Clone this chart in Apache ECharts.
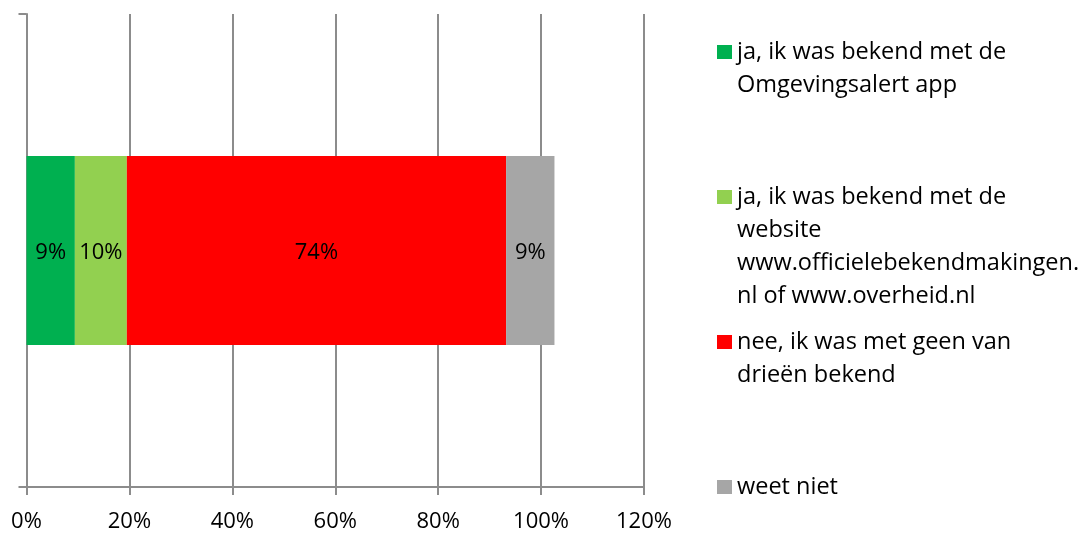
<!DOCTYPE html>
<html>
<head>
<meta charset="utf-8">
<script src="https://cdn.jsdelivr.net/npm/echarts@6/dist/echarts.min.js"></script>
<style>
html,body{margin:0;padding:0;background:#fff;}
#chart{width:1083px;height:533px;}
</style>
</head>
<body>
<div id="chart"></div>
<script>
var categories = [''];
var seriesNames = [
  'ja, ik was bekend met de Omgevingsalert app',
  'ja, ik was bekend met de website www.officielebekendmakingen.nl of www.overheid.nl',
  'nee, ik was met geen van drieën bekend',
  'weet niet'
];
var legendLabels = [
  'ja, ik was bekend met de\nOmgevingsalert app',
  'ja, ik was bekend met de\nwebsite\nwww.officielebekendmakingen.\nnl of www.overheid.nl',
  'nee, ik was met geen van\ndrieën bekend',
  'weet niet'
];
var values = [9.4, 10.1, 73.7, 9.4];
var colors = ['#00B050', '#92D050', '#FF0000', '#A6A6A6'];
var xTicks = [0, 20, 40, 60, 80, 100, 120];

var FONT = 'Open Sans';
var FS = 22;
var LFS = 23.5;
var LH = 33;
var GRAY = '#8c8c8c';
var iconCenters = [52, 197, 342, 487];

var chart = echarts.init(document.getElementById('chart'));

var legends = seriesNames.map(function (name, i) {
  var n = legendLabels[i].split('\n').length;
  var lead = new Array(n).join('\n');
  return {
    data: [name],
    left: 717,
    top: iconCenters[i] - (2 * n - 1) * LH / 2,
    orient: 'vertical',
    padding: 0,
    icon: 'rect',
    itemWidth: 15,
    itemHeight: 14,
    selectedMode: false,
    formatter: function () { return lead + legendLabels[i]; },
    textStyle: {
      fontFamily: FONT,
      fontSize: LFS,
      lineHeight: LH,
      color: '#000'
    }
  };
});

var series = seriesNames.map(function (name, i) {
  return {
    name: name,
    type: 'bar',
    stack: 'total',
    barWidth: '40%',
    itemStyle: { color: colors[i] },
    label: {
      show: true,
      position: 'inside',
      color: '#000',
      fontFamily: FONT,
      fontSize: FS,
      offset: [0, 2],
      formatter: function (p) { return Math.round(p.value) + '%'; }
    },
    data: [values[i]]
  };
});

chart.setOption({
  animation: false,
  backgroundColor: '#fff',
  grid: { left: 26.5, right: 439, top: 14, bottom: 45, containLabel: false },
  legend: legends,
  xAxis: {
    type: 'value',
    min: xTicks[0],
    max: xTicks[xTicks.length - 1],
    interval: 20,
    axisLine: { show: true, lineStyle: { color: GRAY, width: 2 } },
    axisTick: { show: true, length: 8, lineStyle: { color: GRAY, width: 2 } },
    splitLine: { show: true, lineStyle: { color: GRAY, width: 2 } },
    axisLabel: {
      margin: 24,
      fontFamily: FONT,
      fontSize: FS,
      color: '#000',
      formatter: '{value}%'
    }
  },
  yAxis: {
    type: 'category',
    data: categories,
    axisLine: { show: true, lineStyle: { color: GRAY, width: 2 } },
    axisTick: { show: true, length: 8, lineStyle: { color: GRAY, width: 2 } },
    axisLabel: { show: false },
    splitLine: { show: false }
  },
  series: series
});
</script>
</body>
</html>
